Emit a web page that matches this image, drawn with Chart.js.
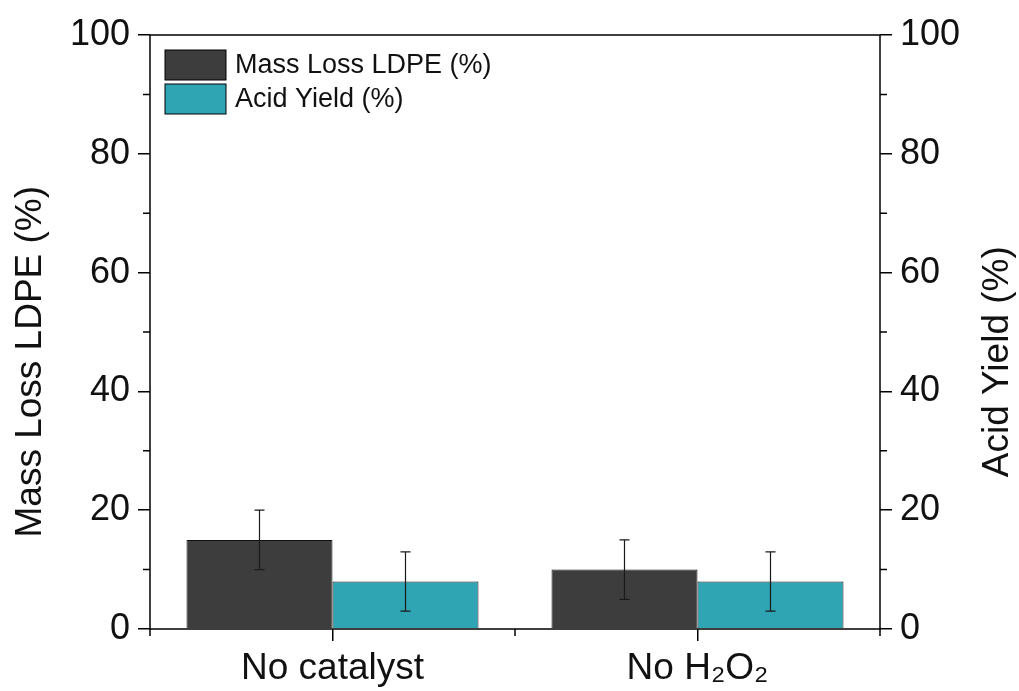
<!DOCTYPE html>
<html>
<head>
<meta charset="utf-8">
<script src="https://cdn.jsdelivr.net/npm/chart.js@4"></script>
<style>
  body { margin: 0; background: #fff; }
  #wrap { width: 1019px; height: 691px; }
</style>
</head>
<body>
<div id="wrap"><canvas id="grafica"></canvas></div>
<script>
// data
const categorias = ["No catalyst", "No H\u2082O\u2082"];
const massLoss = [15, 10];
const massLossErr = [5, 5];
const acidYield = [8, 8];
const acidYieldErr = [5, 5];
const yTicks = [0, 20, 40, 60, 80, 100];
const yMinor = [10, 30, 50, 70, 90];
const tituloIzq = "Mass Loss LDPE (%)";
const tituloDer = "Acid Yield (%)";

const fuente = "'Liberation Sans', Arial, sans-serif";

// frame, minor ticks, error bars, axis titles and legend
const extras = {
  id: "extras",
  afterDatasetsDraw(chart) {
    const ctx = chart.ctx;
    const a = chart.chartArea;
    const x = chart.scales.x;
    const y = chart.scales.y;
    ctx.save();

    // error bars
    const errores = [massLossErr, acidYieldErr];
    chart.data.datasets.forEach((ds, i) => {
      const meta = chart.getDatasetMeta(i);
      const sc = chart.scales[ds.yAxisID];
      meta.data.forEach((bar, j) => {
        const v = ds.data[j];
        const e = errores[i][j];
        const top = sc.getPixelForValue(v + e);
        const bot = sc.getPixelForValue(v - e);
        ctx.strokeStyle = "#1a1a1a";
        ctx.lineWidth = 1.2;
        ctx.beginPath();
        ctx.moveTo(bar.x, top); ctx.lineTo(bar.x, bot);
        ctx.moveTo(bar.x - 5, top); ctx.lineTo(bar.x + 5, top);
        ctx.moveTo(bar.x - 5, bot); ctx.lineTo(bar.x + 5, bot);
        ctx.stroke();
      });
    });

    // frame
    ctx.strokeStyle = "#000";
    ctx.lineWidth = 1.5;
    ctx.strokeRect(a.left, a.top, a.right - a.left, a.bottom - a.top);

    // minor ticks on y (both sides)
    ctx.beginPath();
    yMinor.forEach(v => {
      const py = y.getPixelForValue(v);
      ctx.moveTo(a.left - 7, py); ctx.lineTo(a.left, py);
      ctx.moveTo(a.right, py); ctx.lineTo(a.right + 7, py);
    });
    // minor ticks on x, between categories
    for (let k = 0; k <= categorias.length; k++) {
      const px = x.getPixelForValue(k - 0.5);
      ctx.moveTo(px, a.bottom); ctx.lineTo(px, a.bottom + 7);
    }
    ctx.stroke();

    // axis titles, both read bottom to top
    const cy = y.getPixelForValue(45);
    ctx.fillStyle = "#111";
    ctx.font = "37px " + fuente;
    ctx.textAlign = "center";
    ctx.textBaseline = "middle";
    [[31, tituloIzq], [998, tituloDer]].forEach(([tx, txt]) => {
      ctx.save();
      ctx.translate(tx, cy);
      ctx.rotate(-Math.PI / 2);
      ctx.fillText(txt, 0, 0);
      ctx.restore();
    });

    // legend
    let ly = a.top + 15;
    chart.data.datasets.forEach(ds => {
      ctx.fillStyle = ds.backgroundColor;
      ctx.fillRect(a.left + 15, ly, 61, 30);
      ctx.strokeStyle = "#000";
      ctx.lineWidth = 1;
      ctx.strokeRect(a.left + 15, ly, 61, 30);
      ctx.fillStyle = "#111";
      ctx.font = "27px " + fuente;
      ctx.textBaseline = "middle";
      ctx.textAlign = "left";
      ctx.fillText(ds.label, a.left + 85, ly + 16);
      ly += 34;
    });
    ctx.restore();
  }
};

new Chart("grafica", {
  type: "bar",
  data: {
    labels: categorias,
    datasets: [
      {
        label: "Mass Loss LDPE (%)",
        data: massLoss,
        yAxisID: "y",
        backgroundColor: "#3d3d3d",
        borderColor: "#111",
        borderWidth: 1
      },
      {
        label: "Acid Yield (%)",
        data: acidYield,
        yAxisID: "y2",
        backgroundColor: "#2fa5b4",
        borderColor: "#111",
        borderWidth: 1
      }
    ]
  },
  options: {
    responsive: true,
    maintainAspectRatio: false,
    animation: false,
    layout: { padding: { top: 35, right: 0, left: 0, bottom: 0 } },
    categoryPercentage: 0.8,
    barPercentage: 1.0,
    plugins: { legend: { display: false }, tooltip: { enabled: false } },
    scales: {
      x: {
        afterFit(s) { s.height = 62; },
        grid: { offset: false, drawOnChartArea: false, tickLength: 12, color: "#000", lineWidth: 1.5 },
        border: { display: false },
        ticks: { color: "#111", font: { family: fuente, size: 37 }, padding: 6, maxRotation: 0 }
      },
      y: {
        position: "left",
        min: 0, max: 100,
        afterBuildTicks(s) { s.ticks = yTicks.map(v => ({ value: v })); },
        afterFit(s) { s.width = 150; },
        grid: { drawOnChartArea: false, tickLength: 12, color: "#000", lineWidth: 1.5 },
        border: { display: false },
        ticks: { color: "#111", font: { family: fuente, size: 36 }, padding: 8 }
      },
      y2: {
        position: "right",
        min: 0, max: 100,
        afterBuildTicks(s) { s.ticks = yTicks.map(v => ({ value: v })); },
        afterFit(s) { s.width = 139; },
        grid: { drawOnChartArea: false, tickLength: 12, color: "#000", lineWidth: 1.5 },
        border: { display: false },
        ticks: { color: "#111", font: { family: fuente, size: 36 }, padding: 8 }
      }
    }
  },
  plugins: [extras]
});
</script>
</body>
</html>
